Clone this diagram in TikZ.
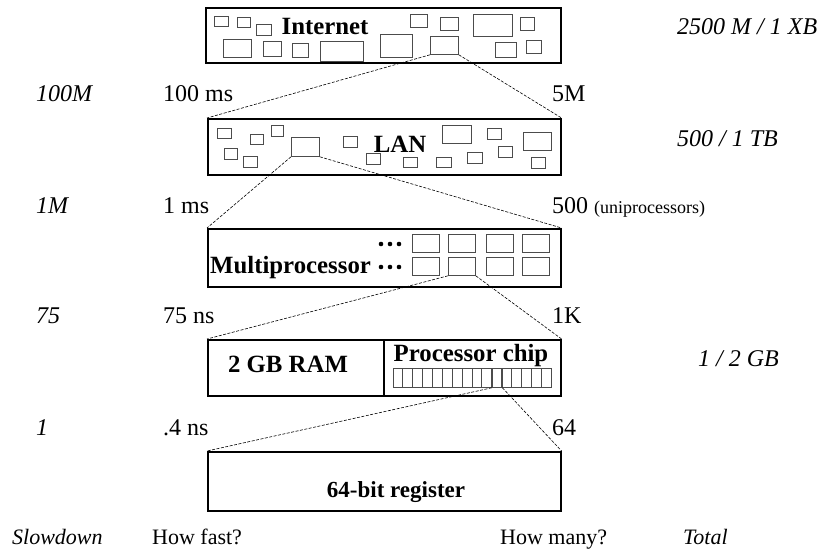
\documentclass[tikz,border=0pt]{standalone}
\usepackage{fontspec}
\setmainfont{Liberation Serif}
\begin{document}
\begin{tikzpicture}[x=1pt, y=-1pt,
  frame/.style={draw, line width=1.6pt, inner sep=0pt, anchor=north west},
  cell/.style={draw=black!70, line width=0.8pt, inner sep=0pt, anchor=north west},
  zoomline/.style={line width=0.6pt, dash pattern=on 3pt off 1.5pt},
  lbl/.style={inner sep=0pt, anchor=base west, font=\fontsize{24}{28}\selectfont},
  ilbl/.style={lbl, font=\fontsize{24}{28}\selectfont\itshape},
  hlbl/.style={lbl, font=\fontsize{22}{26}\selectfont},
  ihlbl/.style={lbl, font=\fontsize{22}{26}\selectfont\itshape},
  title/.style={inner sep=0pt, anchor=base, font=\fontsize{24.8}{28}\selectfont\bfseries}]
\useasboundingbox (0,0) rectangle (825,551);

% ---- level boxes ----
\node[frame, minimum width=355pt, minimum height=55pt] (inet) at (205,7) {};
\node[frame, minimum width=353pt, minimum height=56pt] (lan) at (207,118) {};
\node[frame, minimum width=353pt, minimum height=58pt] (mp) at (207,228) {};
\node[frame, minimum width=176pt, minimum height=56pt] (ram) at (207,339) {};
\node[frame, minimum width=177pt, minimum height=56pt] (chip) at (383,339) {};
\node[frame, minimum width=353pt, minimum height=59pt] (reg) at (207,451) {};

% ---- Internet contents ----
\foreach \xa/\ya/\xb/\yb in {214/16/228/26, 237/17/250/27, 256/24/271/35,
    410/14/427/27, 440/17/458/30, 473/14/512/36, 520/17/534/30,
    223/39/251/57, 263/41/281/56, 292/43/308/57, 320/41/363/61,
    380/34/412/57, 495/42/516/57, 526/40/541/53}
  \draw[draw=black!70, line width=0.8pt] (\xa,\ya) rectangle (\xb,\yb);
\node[cell, minimum width=28pt, minimum height=18pt] (inetsel) at (430,36) {};
\node[title] (inettxt) at (325,35) {Internet};

% ---- LAN contents ----
\foreach \xa/\ya/\xb/\yb in {217/128/231/138, 250/134/263/144, 271/125/283/136,
    224/148/237/159, 243/156/257/167, 343/136/357/147, 366/153/380/164,
    403/157/417/167, 442/125/471/143, 436/157/451/167, 467/152/482/163,
    487/128/501/139, 498/146/512/157, 523/132/551/150, 531/157/545/168}
  \draw[draw=black!70, line width=0.8pt] (\xa,\ya) rectangle (\xb,\yb);
\node[cell, minimum width=28pt, minimum height=19pt] (lansel) at (291,137) {};
\node[title] (lantxt) at (400,152) {LAN};

% ---- multiprocessor contents ----
\foreach \cx in {412,448,486,522}
  \foreach \cy in {234,257}
    \draw[draw=black!70, line width=0.8pt] (\cx,\cy) rectangle ++(27,18);
\node[cell, minimum width=27pt, minimum height=18pt] (mpsel) at (448,257) {};
\foreach \dy in {244,267}
  \foreach \dx in {381,390,399}
    \fill (\dx,\dy) circle (2.3pt);
\node[title, anchor=base west] (mptxt) at (210,273) {Multiprocessor};

% ---- RAM and processor chip ----
\node[title] (ramtxt) at (288,372) {2 GB RAM};
\node[title] (chiptxt) at (471,361) {Processor chip};
\foreach \k in {0,...,15}
  \draw[draw=black!70, line width=0.8pt] ({393+\k*9.875},368) rectangle ++(9.875,19);
\node[cell, minimum width=9.875pt, minimum height=19pt] (regsel) at ({393+10*9.875},368) {};

% ---- register ----
\node[title, font=\fontsize{23}{26}\selectfont\bfseries] (regtxt) at (396,497) {64-bit register};

% ---- zoom connectors ----
\draw[zoomline] (inetsel.south west) -- (lan.north west);
\draw[zoomline] (inetsel.south east) -- (lan.north east);
\draw[zoomline] (lansel.south west) -- (mp.north west);
\draw[zoomline] (lansel.south east) -- (mp.north east);
\draw[zoomline] (mpsel.south west) -- (ram.north west);
\draw[zoomline] (mpsel.south east) -- (chip.north east);
\draw[zoomline] (regsel.south west) -- (reg.north west);
\draw[zoomline] (regsel.south east) -- (reg.north east);

% ---- side labels ----
\node[ilbl] (t1) at (677,35) {2500 M / 1 XB};
\node[ilbl] (t2) at (677,146) {500 / 1 TB};
\node[ilbl] (t3) at (698,366) {1 / 2 GB};

\node[ilbl] (s1) at (36,102) {100M};
\node[lbl]  (f1) at (163,102) {100 ms};
\node[lbl]  (n1) at (552,102) {5M};

\node[ilbl] (s2) at (36,213) {1M};
\node[lbl]  (f2) at (163,213) {1 ms};
\node[lbl]  (n2) at (552,213) {500 {\fontsize{18}{20}\selectfont(uniprocessors)}};

\node[ilbl] (s3) at (36,323) {75};
\node[lbl]  (f3) at (163,323) {75 ns};
\node[lbl]  (n3) at (552,323) {1K};

\node[ilbl] (s4) at (36,435) {1};
\node[lbl]  (f4) at (163,435) {.4 ns};
\node[lbl]  (n4) at (552,435) {64};

\node[ihlbl] (hs) at (12,544) {Slowdown};
\node[hlbl]  (hf) at (152,544) {How fast?};
\node[hlbl]  (hm) at (500,544) {How many?};
\node[ihlbl] (ht) at (683,544) {Total};
\end{tikzpicture}
\end{document}
